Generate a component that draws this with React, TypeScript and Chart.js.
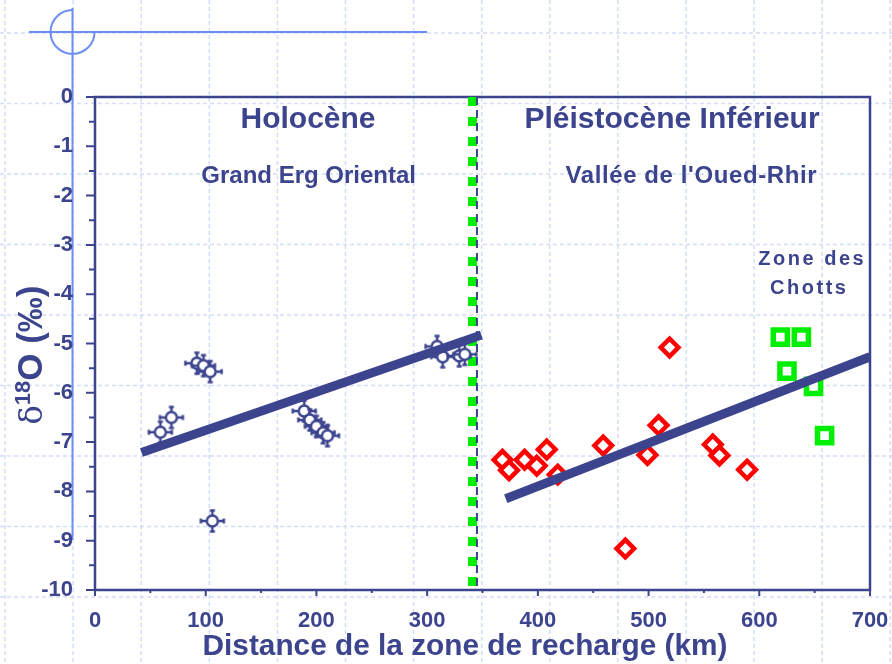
import React, { useEffect, useRef } from 'react';
import { Chart, registerables } from 'chart.js';

Chart.register(...registerables);

const NAVY = '#3c448e';
const RED = '#ff0000';
const GREEN = '#00ee00';
const FONT = '"Liberation Sans", Arial, sans-serif';

// Holocène – Grand Erg Oriental (distance km, δ18O ‰)
const holoceneX = [59, 69, 92, 98, 104, 106, 189, 194, 200, 206, 210, 309, 314, 329, 334];
const holoceneY = [-6.8, -6.5, -5.4, -5.45, -5.57, -8.6, -6.37, -6.55, -6.68, -6.81, -6.87, -5.06, -5.27, -5.25, -5.22];

// Pléistocène Inférieur – Vallée de l'Oued-Rhir
const pleistoX = [368, 374, 388, 399, 408, 418, 459, 479, 499, 509, 519, 558, 564, 589];
const pleistoY = [-7.36, -7.57, -7.36, -7.48, -7.15, -7.66, -7.07, -9.16, -7.26, -6.66, -5.08, -7.05, -7.27, -7.56];

// Zone des Chotts
const chottsX = [619, 638, 625, 649, 659];
const chottsY = [-4.87, -4.87, -5.56, -5.87, -6.87];

// Regression lines
const trendHoloceneX = [42, 349];
const trendHoloceneY = [-7.21, -4.83];
const trendPleistoX = [371, 700];
const trendPleistoY = [-8.15, -5.27];

// Boundary between the two periods
const boundaryGreenX = 341;
const boundaryDashX = 345;
const boundaryY = [0, -10];

// Axes
const xMin = 0;
const xMax = 700;
const xStep = 100;
const yMin = -10;
const yMax = 0;
const yStep = 1;

const periodLabels = ['Holocène', 'Pléistocène Inférieur'];
const regionLabels = ['Grand Erg Oriental', "Vallée de l'Oued-Rhir"];
const chottsLabels = ['Zone des', 'Chotts'];
const xTitle = 'Distance de la zone de recharge (km)';

const toPoints = (xs: number[], ys: number[]) => xs.map((x, i) => ({ x, y: ys[i] }));

function makeErrorMarker(): HTMLCanvasElement {
  const c = document.createElement('canvas');
  c.width = 30;
  c.height = 28;
  const g = c.getContext('2d')!;
  const cx = 15;
  const cy = 14;
  g.strokeStyle = NAVY;
  g.lineWidth = 2.4;
  g.beginPath();
  g.moveTo(cx - 12, cy);
  g.lineTo(cx + 12, cy);
  g.moveTo(cx, cy - 11);
  g.lineTo(cx, cy + 11);
  g.moveTo(cx - 11.5, cy - 2.5);
  g.lineTo(cx - 11.5, cy + 2.5);
  g.moveTo(cx + 11.5, cy - 2.5);
  g.lineTo(cx + 11.5, cy + 2.5);
  g.moveTo(cx - 2.5, cy - 10.5);
  g.lineTo(cx + 2.5, cy - 10.5);
  g.moveTo(cx - 2.5, cy + 10.5);
  g.lineTo(cx + 2.5, cy + 10.5);
  g.stroke();
  g.beginPath();
  g.arc(cx, cy, 5.5, 0, Math.PI * 2);
  g.fillStyle = '#ffffff';
  g.fill();
  g.stroke();
  return c;
}

const backgroundPlugin = {
  id: 'slideBackground',
  beforeDraw(chart: any) {
    const { ctx, width, height } = chart;
    ctx.save();
    ctx.fillStyle = '#ffffff';
    ctx.fillRect(0, 0, width, height);
    ctx.strokeStyle = '#d3ddfa';
    ctx.lineWidth = 1.5;
    ctx.setLineDash([4, 3]);
    for (let x = 5; x < width; x += 68.1) {
      ctx.beginPath();
      ctx.moveTo(x, 0);
      ctx.lineTo(x, height);
      ctx.stroke();
    }
    for (let y = 33; y < height; y += 70.5) {
      ctx.beginPath();
      ctx.moveTo(0, y);
      ctx.lineTo(width, y);
      ctx.stroke();
    }
    ctx.setLineDash([]);
    ctx.strokeStyle = '#6d8ef2';
    ctx.lineWidth = 2;
    ctx.beginPath();
    ctx.moveTo(29, 32);
    ctx.lineTo(427, 32);
    ctx.moveTo(72.5, 8);
    ctx.lineTo(72.5, 540);
    ctx.stroke();
    ctx.beginPath();
    ctx.arc(72.5, 32, 22, 0, Math.PI * 1.5);
    ctx.stroke();
    ctx.restore();
  },
};

const framePlugin = {
  id: 'frameTicks',
  beforeDatasetsDraw(chart: any) {
    const { ctx, chartArea } = chart;
    const xs = chart.scales.x;
    const ys = chart.scales.y;
    ctx.save();
    ctx.strokeStyle = NAVY;
    ctx.lineWidth = 2.5;
    ctx.strokeRect(chartArea.left, chartArea.top, chartArea.right - chartArea.left, chartArea.bottom - chartArea.top);
    ctx.lineWidth = 2;
    ctx.beginPath();
    for (let v = yMin; v <= yMax + 1e-9; v += yStep / 2) {
      const py = ys.getPixelForValue(v);
      const len = Math.abs(v - Math.round(v)) < 1e-6 ? 9 : 6;
      ctx.moveTo(chartArea.left - len, py);
      ctx.lineTo(chartArea.left, py);
    }
    for (let v = xMin; v <= xMax + 1e-9; v += xStep / 2) {
      const px = xs.getPixelForValue(v);
      const len = Math.abs(v / xStep - Math.round(v / xStep)) < 1e-6 ? 6 : 3;
      ctx.moveTo(px, chartArea.bottom);
      ctx.lineTo(px, chartArea.bottom + len);
    }
    ctx.stroke();
    ctx.restore();
  },
};

function drawLabel(ctx: any, text: string, x: number, y: number, size: number, spacing = 0) {
  ctx.font = `bold ${size}px ${FONT}`;
  (ctx as any).letterSpacing = `${spacing}px`;
  const w = ctx.measureText(text).width;
  ctx.textAlign = 'left';
  ctx.textBaseline = 'middle';
  ctx.fillText(text, x - (w - spacing) / 2, y);
  (ctx as any).letterSpacing = '0px';
}

const textPlugin = {
  id: 'annotations',
  afterDraw(chart: any) {
    const { ctx } = chart;
    const xs = chart.scales.x;
    const ys = chart.scales.y;
    const X = (v: number) => xs.getPixelForValue(v);
    const Y = (v: number) => ys.getPixelForValue(v);
    ctx.save();
    ctx.fillStyle = NAVY;
    drawLabel(ctx, periodLabels[0], X(192.4), Y(-0.46), 30);
    drawLabel(ctx, periodLabels[1], X(521.2), Y(-0.46), 30);
    drawLabel(ctx, regionLabels[0], X(193), Y(-1.6), 24);
    drawLabel(ctx, regionLabels[1], X(538.3), Y(-1.6), 24, 0.6);
    drawLabel(ctx, chottsLabels[0], X(646.7), Y(-3.29), 20, 2.5);
    drawLabel(ctx, chottsLabels[1], X(644), Y(-3.88), 20, 2.5);

    // x-axis title
    drawLabel(ctx, xTitle, 465, 647, 29.8);

    // y-axis title: δ18O (‰), rotated
    ctx.save();
    ctx.translate(42, 355);
    ctx.rotate(-Math.PI / 2);
    ctx.textBaseline = 'alphabetic';
    ctx.textAlign = 'left';
    const parts = [
      { t: 'δ', f: `32px "DejaVu Serif", serif`, dy: 0 },
      { t: '18', f: `bold 22px ${FONT}`, dy: -12 },
      { t: 'O (‰)', f: `bold 35px ${FONT}`, dy: 0 },
    ];
    let total = 0;
    const widths = parts.map((p) => {
      ctx.font = p.f;
      const w = ctx.measureText(p.t).width;
      total += w;
      return w;
    });
    let cx = -total / 2;
    parts.forEach((p, i) => {
      ctx.font = p.f;
      ctx.fillText(p.t, cx, p.dy);
      cx += widths[i];
    });
    ctx.restore();
    ctx.restore();
  },
};

export default function App() {
  const ref = useRef<HTMLCanvasElement | null>(null);

  useEffect(() => {
    if (!ref.current) return;
    const marker = makeErrorMarker();
    const tickFont = { family: FONT, size: 22, weight: 'bold' as const };
    const chart = new Chart(ref.current, {
      type: 'scatter',
      data: {
        datasets: [
          {
            label: 'Tendance Holocène',
            data: toPoints(trendHoloceneX, trendHoloceneY),
            showLine: true,
            borderColor: NAVY,
            borderWidth: 9,
            borderCapStyle: 'butt',
            pointRadius: 0,
            order: 0,
          },
          {
            label: 'Tendance Pléistocène',
            data: toPoints(trendPleistoX, trendPleistoY),
            showLine: true,
            borderColor: NAVY,
            borderWidth: 9,
            borderCapStyle: 'butt',
            pointRadius: 0,
            order: 0,
          },
          {
            label: 'Holocène',
            data: toPoints(holoceneX, holoceneY),
            pointStyle: marker as any,
            pointRadius: 10,
            order: 1,
          },
          {
            label: 'Pléistocène',
            data: toPoints(pleistoX, pleistoY),
            pointStyle: 'rectRot',
            pointRadius: 8.8,
            borderWidth: 4.5,
            borderColor: RED,
            backgroundColor: '#ffffff',
            order: 1,
          },
          {
            label: 'Zone des Chotts',
            data: toPoints(chottsX, chottsY),
            pointStyle: 'rect',
            pointRadius: 10,
            borderWidth: 5.5,
            borderColor: GREEN,
            backgroundColor: '#ffffff',
            order: 1,
          },
          {
            label: 'Limite',
            data: boundaryY.map((y) => ({ x: boundaryGreenX, y })),
            showLine: true,
            borderColor: GREEN,
            borderWidth: 9,
            borderDash: [9, 11],
            borderCapStyle: 'butt',
            pointRadius: 0,
            order: 3,
          },
          {
            label: 'Limite2',
            data: boundaryY.map((y) => ({ x: boundaryDashX, y })),
            showLine: true,
            borderColor: NAVY,
            borderWidth: 2,
            borderDash: [8, 5],
            borderCapStyle: 'butt',
            pointRadius: 0,
            order: 2,
          },
        ],
      },
      options: {
        responsive: false,
        animation: false,
        events: [],
        layout: { padding: { top: 97, right: 22, left: 0, bottom: 0 } },
        plugins: {
          legend: { display: false },
          tooltip: { enabled: false },
        },
        scales: {
          x: {
            type: 'linear',
            min: xMin,
            max: xMax,
            ticks: { stepSize: xStep, color: NAVY, font: tickFont, padding: 18, maxRotation: 0 },
            grid: { display: false, drawTicks: false },
            border: { display: false },
            afterFit: (s: any) => {
              s.height = 74;
              s.paddingLeft = 0;
              s.paddingRight = 0;
            },
          },
          y: {
            type: 'linear',
            min: yMin,
            max: yMax,
            ticks: { stepSize: yStep, color: NAVY, font: tickFont, padding: 22 },
            grid: { display: false, drawTicks: false },
            border: { display: false },
            afterFit: (s: any) => {
              s.width = 95;
              s.paddingTop = 0;
              s.paddingBottom = 0;
            },
          },
        },
      },
      plugins: [backgroundPlugin, framePlugin, textPlugin],
    });
    return () => chart.destroy();
  }, []);

  return (
    <div style={{ position: 'fixed', left: 0, top: 0, width: 892, height: 664 }}>
      <canvas ref={ref} width={892} height={664} />
    </div>
  );
}
